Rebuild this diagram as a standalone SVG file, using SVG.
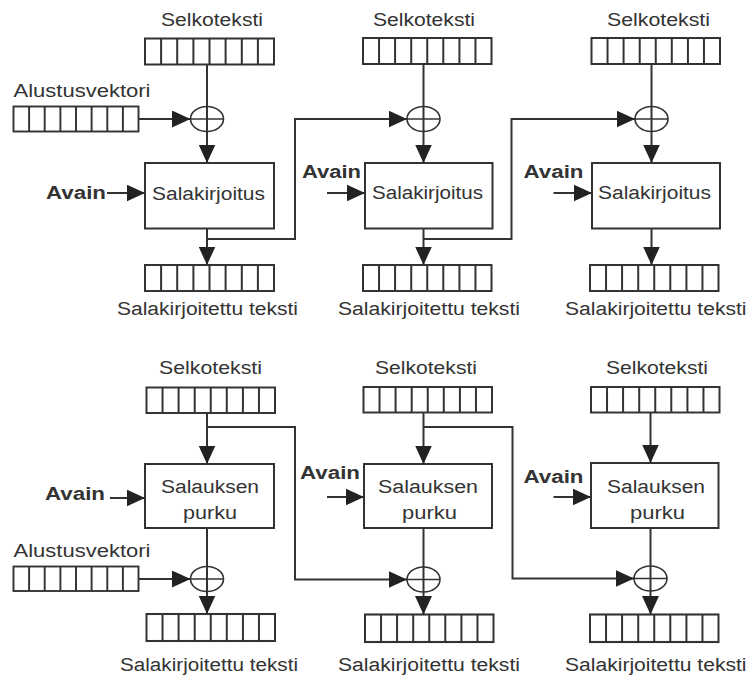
<svg xmlns="http://www.w3.org/2000/svg" xmlns:xlink="http://www.w3.org/1999/xlink" width="747" height="680" viewBox="0 0 747 680">
<style>
.t{font-family:"Liberation Sans",Arial,sans-serif;font-size:18px;fill:#333}
.b{font-family:"Liberation Sans",Arial,sans-serif;font-size:18px;font-weight:bold;fill:#333}
.box{fill:#fff;stroke:#333;stroke-width:2}
.c{fill:none;stroke:#333;stroke-width:2}
.x{fill:none;stroke:#333;stroke-width:1.6}
</style>
<defs>
<marker id="ah" markerUnits="userSpaceOnUse" markerWidth="19" markerHeight="17" refX="18.5" refY="8.5" orient="auto">
<path d="M0,0 L18.5,8.5 L0,17 z" fill="#222"/>
</marker>
<symbol id="reg" viewBox="0 0 129 26" preserveAspectRatio="none" overflow="visible">
<rect x="0" y="0" width="129" height="26" fill="#fff" stroke="#333" stroke-width="2"/>
<path d="M16.1,0V26M32.2,0V26M48.4,0V26M64.5,0V26M80.6,0V26M96.8,0V26M112.9,0V26" stroke="#333" stroke-width="2"/>
</symbol>
</defs>

<!-- ============ Top row: encryption ============ -->
<g id="enc1">
<text class="t" x="161" y="26" textLength="102" lengthAdjust="spacingAndGlyphs">Selkoteksti</text>
<use xlink:href="#reg" x="145" y="38.5" width="129" height="26"/>
<text class="t" x="13.5" y="97" textLength="137" lengthAdjust="spacingAndGlyphs">Alustusvektori</text>
<use xlink:href="#reg" x="13.5" y="106.5" width="125" height="25"/>
<rect class="box" x="145" y="163" width="129" height="65.5"/>
<text class="t" x="152" y="199.5" textLength="113" lengthAdjust="spacingAndGlyphs">Salakirjoitus</text>
<text class="b" x="46" y="198.5" textLength="60" lengthAdjust="spacingAndGlyphs">Avain</text>
<use xlink:href="#reg" x="145" y="265" width="129" height="26"/>
<text class="t" x="117" y="315" textLength="181" lengthAdjust="spacingAndGlyphs">Salakirjoitettu teksti</text>
</g>
<g id="enc2">
<text class="t" x="373" y="26" textLength="102" lengthAdjust="spacingAndGlyphs">Selkoteksti</text>
<use xlink:href="#reg" x="363" y="38" width="128.5" height="26"/>
<rect class="box" x="365" y="163" width="127.5" height="65.5"/>
<text class="t" x="372" y="199" textLength="111" lengthAdjust="spacingAndGlyphs">Salakirjoitus</text>
<text class="b" x="302" y="177.5" textLength="59" lengthAdjust="spacingAndGlyphs">Avain</text>
<use xlink:href="#reg" x="363" y="265" width="128.5" height="26"/>
<text class="t" x="338" y="315" textLength="182" lengthAdjust="spacingAndGlyphs">Salakirjoitettu teksti</text>
</g>
<g id="enc3">
<text class="t" x="607" y="26" textLength="103" lengthAdjust="spacingAndGlyphs">Selkoteksti</text>
<use xlink:href="#reg" x="591.5" y="38" width="128.5" height="26"/>
<rect class="box" x="592" y="163" width="128" height="65.5"/>
<text class="t" x="598" y="199" textLength="113" lengthAdjust="spacingAndGlyphs">Salakirjoitus</text>
<text class="b" x="523.5" y="177.5" textLength="60" lengthAdjust="spacingAndGlyphs">Avain</text>
<use xlink:href="#reg" x="590" y="265" width="128.5" height="26"/>
<text class="t" x="565" y="315" textLength="181.5" lengthAdjust="spacingAndGlyphs">Salakirjoitettu teksti</text>
</g>
<g id="xor-top">
<g id="xor1"><ellipse class="x" cx="207" cy="119" rx="16.5" ry="12.5"/><path class="x" d="M190.5,119H223.5"/></g>
<g id="xor2"><ellipse class="x" cx="423.5" cy="119" rx="16.5" ry="12.5"/><path class="x" d="M407,119H440"/></g>
<g id="xor3"><ellipse class="x" cx="651.5" cy="119" rx="16.5" ry="12.5"/><path class="x" d="M635,119H668"/></g>
</g>

<!-- ============ Bottom row: decryption ============ -->
<g id="dec1">
<text class="t" x="159" y="373.5" textLength="103" lengthAdjust="spacingAndGlyphs">Selkoteksti</text>
<use xlink:href="#reg" x="146.5" y="387.5" width="128.5" height="25.5"/>
<rect class="box" x="145" y="464" width="129" height="64"/>
<text class="t" x="161" y="493" textLength="98" lengthAdjust="spacingAndGlyphs">Salauksen</text>
<text class="t" x="183" y="518.5" textLength="54" lengthAdjust="spacingAndGlyphs">purku</text>
<text class="b" x="45" y="500" textLength="60" lengthAdjust="spacingAndGlyphs">Avain</text>
<text class="t" x="13.5" y="557" textLength="137" lengthAdjust="spacingAndGlyphs">Alustusvektori</text>
<use xlink:href="#reg" x="13.5" y="566.5" width="125" height="24.5"/>
<use xlink:href="#reg" x="146.5" y="614" width="128.5" height="27"/>
<text class="t" x="120" y="671" textLength="178" lengthAdjust="spacingAndGlyphs">Salakirjoitettu teksti</text>
</g>
<g id="dec2">
<text class="t" x="375" y="373.5" textLength="102" lengthAdjust="spacingAndGlyphs">Selkoteksti</text>
<use xlink:href="#reg" x="363.5" y="387" width="128.5" height="25.5"/>
<rect class="box" x="364" y="464" width="128" height="64"/>
<text class="t" x="378" y="493" textLength="100" lengthAdjust="spacingAndGlyphs">Salauksen</text>
<text class="t" x="402" y="518.5" textLength="55" lengthAdjust="spacingAndGlyphs">purku</text>
<text class="b" x="300" y="478.5" textLength="60" lengthAdjust="spacingAndGlyphs">Avain</text>
<use xlink:href="#reg" x="365" y="614.5" width="128.5" height="27.5"/>
<text class="t" x="338" y="671" textLength="182" lengthAdjust="spacingAndGlyphs">Salakirjoitettu teksti</text>
</g>
<g id="dec3">
<text class="t" x="606" y="373.5" textLength="102" lengthAdjust="spacingAndGlyphs">Selkoteksti</text>
<use xlink:href="#reg" x="591" y="387" width="128.5" height="25.5"/>
<rect class="box" x="591" y="463" width="127.5" height="65"/>
<text class="t" x="607" y="493" textLength="98" lengthAdjust="spacingAndGlyphs">Salauksen</text>
<text class="t" x="630" y="518.5" textLength="55" lengthAdjust="spacingAndGlyphs">purku</text>
<text class="b" x="523.5" y="483" textLength="60" lengthAdjust="spacingAndGlyphs">Avain</text>
<use xlink:href="#reg" x="590" y="614.5" width="128.5" height="27.5"/>
<text class="t" x="565" y="671" textLength="181.5" lengthAdjust="spacingAndGlyphs">Salakirjoitettu teksti</text>
</g>
<g id="xor-bottom">
<g id="xor4"><ellipse class="x" cx="207" cy="579" rx="16.5" ry="12.5"/><path class="x" d="M190.5,579H223.5"/></g>
<g id="xor5"><ellipse class="x" cx="423.5" cy="579.5" rx="16.5" ry="12.5"/><path class="x" d="M407,579.5H440"/></g>
<g id="xor6"><ellipse class="x" cx="650.5" cy="578.5" rx="16.5" ry="12.5"/><path class="x" d="M634,578.5H667"/></g>
</g>

<g id="connectors">
<!-- top row -->
<path class="c" d="M207,64.5V163" marker-end="url(#ah)"/>
<path class="c" d="M138.5,119H190.5" marker-end="url(#ah)"/>
<path class="c" d="M107,193H145" marker-end="url(#ah)"/>
<path class="c" d="M207,228.5V265" marker-end="url(#ah)"/>
<path class="c" d="M207,239H295V119H407" marker-end="url(#ah)"/>
<path class="c" d="M423.5,64V163" marker-end="url(#ah)"/>
<path class="c" d="M327,193H365" marker-end="url(#ah)"/>
<path class="c" d="M423.5,228.5V265" marker-end="url(#ah)"/>
<path class="c" d="M423.5,239H511.5V119H635" marker-end="url(#ah)"/>
<path class="c" d="M651.5,64V163" marker-end="url(#ah)"/>
<path class="c" d="M553.5,193H592" marker-end="url(#ah)"/>
<path class="c" d="M651.5,228.5V265" marker-end="url(#ah)"/>
<!-- bottom row -->
<path class="c" d="M207,413V464" marker-end="url(#ah)"/>
<path class="c" d="M207,427H295V579.5H407" marker-end="url(#ah)"/>
<path class="c" d="M110,498H145" marker-end="url(#ah)"/>
<path class="c" d="M207,528V614" marker-end="url(#ah)"/>
<path class="c" d="M138.5,579H190.5" marker-end="url(#ah)"/>
<path class="c" d="M423.5,412.5V464" marker-end="url(#ah)"/>
<path class="c" d="M423.5,427H512.5V578.5H634" marker-end="url(#ah)"/>
<path class="c" d="M327,497H364" marker-end="url(#ah)"/>
<path class="c" d="M423.5,528V614.5" marker-end="url(#ah)"/>
<path class="c" d="M650.5,412.5V463" marker-end="url(#ah)"/>
<path class="c" d="M553.5,497H591" marker-end="url(#ah)"/>
<path class="c" d="M650.5,528V614.5" marker-end="url(#ah)"/>
</g>
</svg>
